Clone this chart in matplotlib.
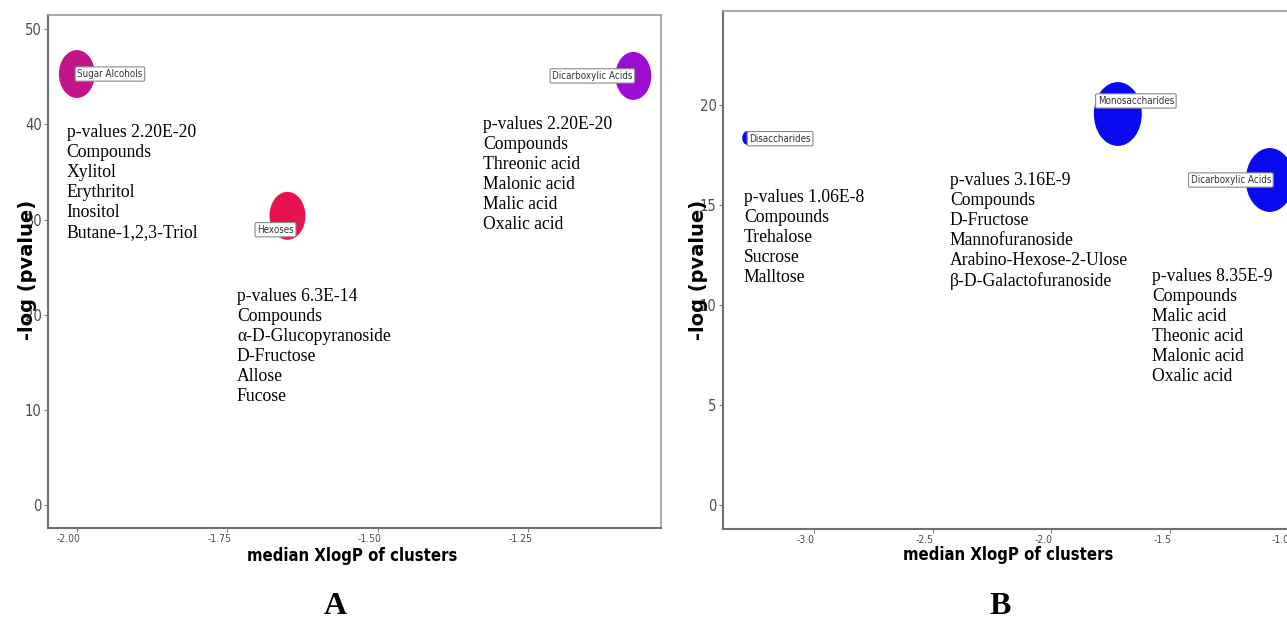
"""
Cluster enrichment bubble charts (panels A and B):
-log(p-value) vs median XlogP of clusters, with compound lists.
"""

import os
import numpy as np
import matplotlib.pyplot as plt
from matplotlib import font_manager
from matplotlib.font_manager import FontProperties
from matplotlib.path import Path
from matplotlib.textpath import TextPath
from matplotlib.transforms import ScaledTranslation

# -- Data ----------------------------------------------------------------------
A_CLUSTERS  = ['Sugar Alcohols', 'Hexoses', 'Dicarboxylic Acids']
A_XLOGP     = [-2.00, -1.65, -1.075]
A_LOGP      = [45.3, 30.4, 45.1]
A_NCOMP     = [4, 4, 4]
A_COLORS    = ['#C4148C', '#E8124E', '#9C0CD4']
A_PVALUES   = ['2.20E-20', '6.3E-14', '2.20E-20']
A_COMPOUNDS = [['Xylitol', 'Erythritol', 'Inositol', 'Butane-1,2,3-Triol'],
               ['α-D-Glucopyranoside', 'D-Fructose', 'Allose', 'Fucose'],
               ['Threonic acid', 'Malonic acid', 'Malic acid', 'Oxalic acid']]
A_XTICKS    = [-2.00, -1.75, -1.50, -1.25]
A_YTICKS    = [0, 10, 20, 30, 40, 50]

B_CLUSTERS  = ['Disaccharides', 'Monosaccharides', 'Dicarboxylic Acids']
B_XLOGP     = [-3.28, -1.72, -1.08]
B_LOGP      = [18.35, 19.55, 16.25]
B_NCOMP     = [3, 4, 4]
B_COLORS    = ['#0A0AF0', '#0A0AF0', '#0A0AF0']
B_PVALUES   = ['1.06E-8', '3.16E-9', '8.35E-9']
B_COMPOUNDS = [['Trehalose', 'Sucrose', 'Malltose'],
               ['D-Fructose', 'Mannofuranoside', 'Arabino-Hexose-2-Ulose',
                'β-D-Galactofuranoside'],
               ['Malic acid', 'Theonic acid', 'Malonic acid', 'Oxalic acid']]
B_XTICKS    = [-3.0, -2.5, -2.0, -1.5, -1.0]
B_YTICKS    = [0, 5, 10, 15, 20]

XLABEL = 'median XlogP of clusters'
YLABEL = '-log (pvalue)'

# -- Layout --------------------------------------------------------------------
W, H = 1287, 618
PANELS = {
    'A': dict(rect=[48 / W, 1 - 528 / H, 613 / W, 513 / H],
              xlim=(-2.048, -1.029), ylim=(-2.4, 51.5), xfmt='{:.2f}',
              size_range=(23, 46),
              label_off=[(23.8, 0), (-8.6, -10), (-29.5, 0)],
              text_pos=[(-2.017, 40.1), (-1.734, 22.8), (-1.3245, 40.9)],
              xlabel_xy=(0.497, -0.055), ylabel_xy=(-0.034, 0.503),
              letter_x=335),
    'B': dict(rect=[723 / W, 1 - 529 / H, 580 / W, 518 / H],
              xlim=(-3.383, -0.94), ylim=(-1.2, 24.7), xfmt='{:.1f}',
              size_range=(10, 46),
              label_off=[(23.5, -0.5), (13, 9.4), (-28, 0)],
              text_pos=[(-3.295, 15.8), (-2.427, 16.65), (-1.576, 11.85)],
              xlabel_xy=(0.491, -0.050), ylabel_xy=(-0.042, 0.50),
              letter_x=1000),
}
XLABEL_WIDTH_PX = 209


def find_font(candidates, fallback):
    files = {os.path.basename(f.fname).lower(): f.fname
             for f in font_manager.fontManager.ttflist}
    for name in candidates:
        if name in files:
            return FontProperties(fname=files[name])
    return FontProperties(family=fallback[0], weight=fallback[1])


NARROW_BOLD = find_font(['dejavusanscondensed-bold.ttf', 'liberationsansnarrow-bold.ttf',
                         'notosans-condensedbold.ttf', 'robotocondensed-bold.ttf',
                         'notosans-semicondensedbold.ttf'],
                        ('Liberation Sans', 'bold'))
NARROW = find_font(['dejavusanscondensed.ttf', 'liberationsansnarrow-regular.ttf',
                    'notosans-condensed.ttf', 'robotocondensed-regular.ttf',
                    'notosans-semicondensed.ttf'],
                   ('Liberation Sans', 'normal'))
SERIF = 'Liberation Serif'

circle = Path.unit_circle()
ELLIPSE = Path(circle.vertices * [0.75, 1.0], circle.codes)


def fit_size(text, prop, width_px, ref=10.0):
    w = TextPath((0, 0), text, size=ref, prop=prop).get_extents().width
    return ref * (width_px * 0.72) / w


def fp(base, size):
    p = base.copy()
    p.set_size(size)
    return p


def marker_area(counts, lo, hi):
    c = np.asarray(counts, dtype=float)
    if c.max() == c.min():
        h = np.full_like(c, (lo + hi) / 2)
    else:
        h = lo + (c - c.min()) / (c.max() - c.min()) * (hi - lo)
    return h ** 2


def draw_panel(fig, cfg, names, xs, ys, counts, colors, pvals, comps, xticks, yticks):
    ax = fig.add_axes(cfg['rect'])
    ax.scatter(xs, ys, s=marker_area(counts, *cfg['size_range']), c=colors,
               marker=ELLIPSE, linewidths=0, zorder=3)

    for name, x, y, (dx, dy) in zip(names, xs, ys, cfg['label_off']):
        ax.annotate(name, xy=(x, y), xytext=(dx, dy), textcoords='offset points',
                    ha='center', va='center', fontproperties=fp(NARROW, 7),
                    color='#333333', zorder=4,
                    bbox=dict(boxstyle='round,pad=0.22,rounding_size=0.15',
                              fc='white', ec='#8A8A8A', lw=0.8))

    for pv, cl, (tx, ty) in zip(pvals, comps, cfg['text_pos']):
        block = '\n'.join([f'p-values {pv}', 'Compounds'] + cl)
        ax.text(tx, ty, block, ha='left', va='top', fontsize=12.7, family=SERIF,
                linespacing=1.235, color='black', zorder=5)

    ax.set_xlim(*cfg['xlim'])
    ax.set_ylim(*cfg['ylim'])
    ax.set_xticks(xticks)
    ax.set_xticklabels([cfg['xfmt'].format(t) for t in xticks],
                       fontproperties=fp(NARROW, 7.5), color='#4D4D4D')
    ax.set_yticks(yticks)
    ax.set_yticklabels([str(t) for t in yticks],
                       fontproperties=fp(NARROW, 10.5), color='#4D4D4D')
    ax.tick_params(length=3, width=0.8, color='#7F7F7F', pad=1.5)
    shift = ScaledTranslation(-8 / 100, 0, fig.dpi_scale_trans)
    for lab in ax.get_xticklabels():
        lab.set_transform(lab.get_transform() + shift)

    for side in ('left', 'bottom'):
        ax.spines[side].set_color('#707070')
        ax.spines[side].set_linewidth(1.5)
    for side in ('top', 'right'):
        ax.spines[side].set_color('#9A9A9A')
        ax.spines[side].set_linewidth(1.2)

    xl_size = min(15, fit_size(XLABEL, NARROW_BOLD, XLABEL_WIDTH_PX))
    ax.set_xlabel(XLABEL, fontproperties=fp(NARROW_BOLD, xl_size), va='center')
    ax.xaxis.set_label_coords(*cfg['xlabel_xy'])
    ax.set_ylabel(YLABEL, fontsize=14, fontweight='bold',
                  family='DejaVu Sans', va='center')
    ax.yaxis.set_label_coords(*cfg['ylabel_xy'])
    return ax


def main():
    fig = plt.figure(figsize=(W / 100, H / 100), dpi=100)
    fig.patch.set_facecolor('white')

    draw_panel(fig, PANELS['A'], A_CLUSTERS, A_XLOGP, A_LOGP, A_NCOMP, A_COLORS,
               A_PVALUES, A_COMPOUNDS, A_XTICKS, A_YTICKS)
    draw_panel(fig, PANELS['B'], B_CLUSTERS, B_XLOGP, B_LOGP, B_NCOMP, B_COLORS,
               B_PVALUES, B_COMPOUNDS, B_XTICKS, B_YTICKS)

    for letter, cfg in PANELS.items():
        fig.text(cfg['letter_x'] / W, 0.007, letter, ha='center', va='baseline',
                 fontsize=23, fontweight='bold', family=SERIF)

    fig.savefig('out.png', dpi=100)


if __name__ == '__main__':
    main()
